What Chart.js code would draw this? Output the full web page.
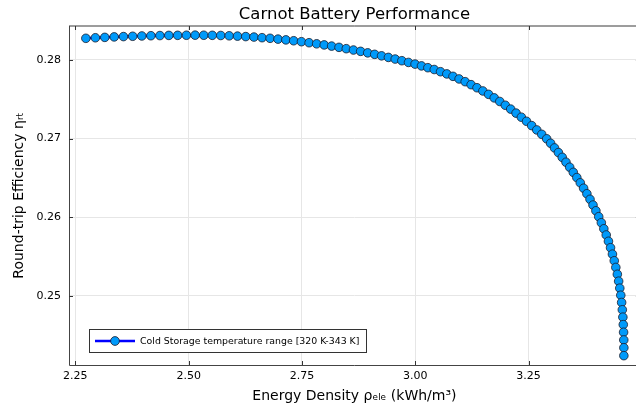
<!DOCTYPE html>
<html>
<head>
<meta charset="utf-8">
<script src="https://cdn.jsdelivr.net/npm/chart.js@4.4.1/dist/chart.umd.min.js"></script>
<style>
  html, body { margin: 0; padding: 0; background: #ffffff; overflow: hidden; width: 636px; height: 412px; }
  #wrap { width: 636px; height: 412px; overflow: hidden; position: relative; }
  canvas { display: block; }
</style>
</head>
<body>
<div id="wrap"><canvas id="chart" width="645" height="412" style="width:645px;height:412px"></canvas></div>
<script>
// Energy density (kWh/m³) for each cold-storage temperature step
const energyDensity = [
  2.2732, 2.2942, 2.3150, 2.3357, 2.3562, 2.3765, 2.3967, 2.4167, 2.4366, 2.4563,
  2.4758, 2.4951, 2.5143, 2.5334, 2.5522, 2.5709, 2.5895, 2.6078, 2.6260, 2.6441,
  2.6620, 2.6797, 2.6972, 2.7146, 2.7318, 2.7489, 2.7658, 2.7825, 2.7991, 2.8155,
  2.8318, 2.8478, 2.8637, 2.8795, 2.8951, 2.9105, 2.9257, 2.9408, 2.9558, 2.9705,
  2.9851, 2.9996, 3.0138, 3.0279, 3.0419, 3.0558, 3.0697, 3.0833, 3.0968, 3.1102,
  3.1233, 3.1363, 3.1492, 3.1618, 3.1743, 3.1866, 3.1988, 3.2107, 3.2225, 3.2342,
  3.2456, 3.2570, 3.2682, 3.2792, 3.2901, 3.2988, 3.3074, 3.3160, 3.3244, 3.3327,
  3.3409, 3.3488, 3.3566, 3.3642, 3.3716, 3.3788, 3.3857, 3.3923, 3.3987, 3.4049,
  3.4107, 3.4162, 3.4215, 3.4264, 3.4310, 3.4352, 3.4392, 3.4427, 3.4460, 3.4489,
  3.4514, 3.4536, 3.4555, 3.4570, 3.4582, 3.4591, 3.4598, 3.4602, 3.4604, 3.4604
];

// Round-trip efficiency for the same temperature steps
const efficiency = [
  0.28276, 0.28283, 0.28288, 0.28294, 0.28298, 0.28302, 0.28306, 0.28309, 0.28311, 0.28313,
  0.28314, 0.28315, 0.28316, 0.28315, 0.28314, 0.28312, 0.28308, 0.28304, 0.28298, 0.28292,
  0.28284, 0.28276, 0.28266, 0.28256, 0.28245, 0.28233, 0.28220, 0.28206, 0.28192, 0.28177,
  0.28161, 0.28144, 0.28127, 0.28110, 0.28091, 0.28072, 0.28053, 0.28033, 0.28012, 0.27991,
  0.27969, 0.27948, 0.27925, 0.27902, 0.27879, 0.27851, 0.27823, 0.27792, 0.27759, 0.27724,
  0.27686, 0.27647, 0.27606, 0.27563, 0.27518, 0.27472, 0.27424, 0.27375, 0.27324, 0.27272,
  0.27220, 0.27165, 0.27110, 0.27054, 0.26997, 0.26940, 0.26881, 0.26822, 0.26761, 0.26699,
  0.26635, 0.26570, 0.26504, 0.26437, 0.26368, 0.26298, 0.26227, 0.26154, 0.26081, 0.26006,
  0.25929, 0.25852, 0.25773, 0.25693, 0.25611, 0.25529, 0.25445, 0.25360, 0.25273, 0.25185,
  0.25096, 0.25006, 0.24914, 0.24821, 0.24727, 0.24632, 0.24535, 0.24437, 0.24338, 0.24237
];

const xTickValues = [2.25, 2.50, 2.75, 3.00, 3.25];
const yTickValues = [0.25, 0.26, 0.27, 0.28];
const seriesLabel = 'Cold Storage temperature range [320 K-343 K]';

const FONT = "'DejaVu Sans', 'Liberation Sans', sans-serif";
const LINE_BLUE = '#0000ff';
const MARKER_FILL = '#009afa';
const MARKER_EDGE = '#1c1c2a';

// Axis frame with inward tick marks
const framePlugin = {
  id: 'frame',
  beforeDatasetsDraw(chart) {
    const { ctx, chartArea: a, scales: { x, y } } = chart;
    ctx.save();
    ctx.lineWidth = 1;
    // top border (soft)
    ctx.strokeStyle = '#3a3a3a';
    ctx.beginPath();
    ctx.moveTo(a.left, a.top); ctx.lineTo(a.right, a.top);
    ctx.stroke();
    // left and bottom spines
    ctx.strokeStyle = '#444444';
    ctx.beginPath();
    ctx.moveTo(a.left + 0.5, a.top); ctx.lineTo(a.left + 0.5, a.bottom + 0.5);
    ctx.lineTo(a.right, a.bottom + 0.5);
    ctx.moveTo(a.right - 0.5, a.top); ctx.lineTo(a.right - 0.5, a.bottom);
    ctx.stroke();
    // tick marks
    ctx.strokeStyle = '#333333';
    ctx.beginPath();
    xTickValues.forEach(v => {
      const px = Math.round(x.getPixelForValue(v)) + 0.5;
      ctx.moveTo(px, a.bottom); ctx.lineTo(px, a.bottom - 4);
      ctx.moveTo(px, a.top); ctx.lineTo(px, a.top + 4);
    });
    yTickValues.forEach(v => {
      const py = Math.round(y.getPixelForValue(v)) + 0.5;
      ctx.moveTo(a.left, py); ctx.lineTo(a.left + 4, py);
      ctx.moveTo(a.right, py); ctx.lineTo(a.right - 4, py);
    });
    ctx.stroke();
    ctx.restore();
  }
};

// Legend box in the lower-left corner of the plot
const legendPlugin = {
  id: 'cornerLegend',
  afterDraw(chart) {
    const { ctx } = chart;
    const ds = chart.data.datasets[0];
    const bx = 89.5, by = 329.5, bw = 277, bh = 23;
    const cy = by + bh / 2;
    ctx.save();
    ctx.fillStyle = '#ffffff';
    ctx.fillRect(bx, by, bw, bh);
    ctx.strokeStyle = '#333333';
    ctx.lineWidth = 1;
    ctx.strokeRect(bx, by, bw, bh);
    ctx.strokeStyle = ds.borderColor;
    ctx.lineWidth = 2.6;
    ctx.beginPath();
    ctx.moveTo(95, cy); ctx.lineTo(135, cy);
    ctx.stroke();
    ctx.beginPath();
    ctx.arc(115, cy, 4.4, 0, Math.PI * 2);
    ctx.fillStyle = ds.pointBackgroundColor;
    ctx.fill();
    ctx.lineWidth = 0.8;
    ctx.strokeStyle = ds.pointBorderColor;
    ctx.stroke();
    ctx.fillStyle = '#000000';
    ctx.font = '9.4px ' + FONT;
    ctx.textBaseline = 'middle';
    ctx.textAlign = 'left';
    ctx.fillText(ds.label, 140, cy + 0.5);
    ctx.restore();
  }
};

Chart.defaults.font.family = FONT;
Chart.defaults.color = '#000000';

new Chart(document.getElementById('chart'), {
  type: 'scatter',
  data: {
    datasets: [{
      label: seriesLabel,
      data: energyDensity.map((v, i) => ({ x: v, y: efficiency[i] })),
      showLine: true,
      borderColor: LINE_BLUE,
      borderWidth: 2.5,
      pointRadius: 4.3,
      pointBackgroundColor: MARKER_FILL,
      pointBorderColor: MARKER_EDGE,
      pointBorderWidth: 0.8,
      tension: 0
    }]
  },
  options: {
    responsive: false,
    animation: false,
    devicePixelRatio: 1,
    layout: { padding: 0 },
    plugins: {
      legend: { display: false },
      tooltip: { enabled: false },
      title: {
        display: true,
        text: 'Carnot Battery Performance',
        fullSize: false,
        font: { size: 16.5, weight: 'normal', family: FONT },
        color: '#000000',
        padding: { top: 4.5, bottom: 1.7 }
      }
    },
    scales: {
      x: {
        type: 'linear',
        min: 2.2360,
        max: 3.4958,
        afterBuildTicks: s => { s.ticks = xTickValues.map(v => ({ value: v })); },
        afterFit: s => { s.height = 47; },
        ticks: {
          font: { size: 11 },
          color: '#000000',
          padding: 5,
          maxRotation: 0,
          callback: v => Number(v).toFixed(2)
        },
        grid: { color: '#e6e6e6', lineWidth: 1, drawTicks: false },
        border: { display: false },
        title: {
          display: true,
          text: 'Energy Density ρₑₗₑ (kWh/m³)',
          font: { size: 14 },
          color: '#000000',
          padding: { top: 0, bottom: 7 }
        }
      },
      y: {
        type: 'linear',
        min: 0.241181,
        max: 0.284327,
        afterBuildTicks: s => { s.ticks = yTickValues.map(v => ({ value: v })); },
        afterFit: s => { s.width = 69; },
        ticks: {
          font: { size: 11 },
          color: '#000000',
          padding: 8,
          callback: v => Number(v).toFixed(2)
        },
        grid: { color: '#e6e6e6', lineWidth: 1, drawTicks: false },
        border: { display: false },
        title: {
          display: true,
          text: 'Round-trip Efficiency ηᵣₜ',
          font: { size: 14 },
          color: '#000000',
          padding: { top: 11, bottom: 0 }
        }
      }
    }
  },
  plugins: [framePlugin, legendPlugin]
});
</script>
</body>
</html>
